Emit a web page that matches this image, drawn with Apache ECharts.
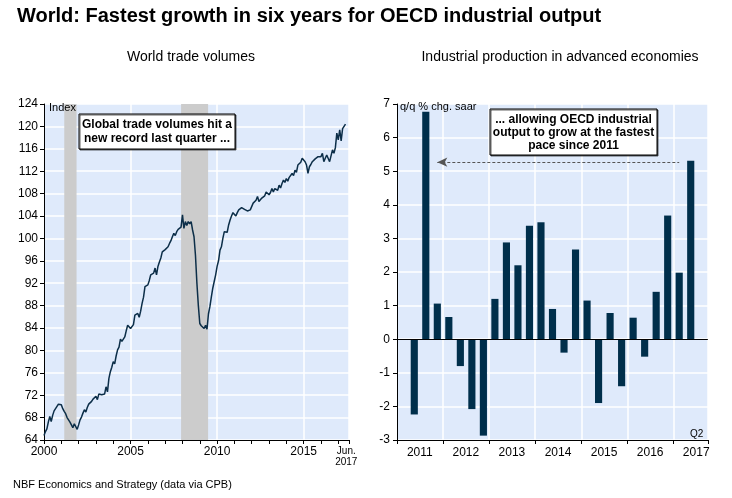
<!DOCTYPE html>
<html>
<head>
<meta charset="utf-8">
<script src="https://cdn.jsdelivr.net/npm/echarts@6/dist/echarts.min.js"></script>
<style>
  html, body { margin: 0; padding: 0; background: #fff; }
  #chart { width: 732px; height: 498px; }
</style>
</head>
<body>
<div id="chart"></div>
<script>
// World trade volumes, monthly index, Jan 2000 - Jun 2017
const tradeStartYear = 2000;
const tradeValues = [
  64.8, 65.5, 66.0, 67.2, 68.2, 67.3, 68.4, 69.2, 69.4, 70.0, 70.4, 70.5, // 2000
  70.3, 69.6, 69.1, 68.7, 68.0, 67.6, 67.2, 66.9, 66.2, 66.9, 66.6, 65.9, // 2001
  66.7, 67.6, 68.1, 68.8, 69.4, 69.0, 69.8, 70.4, 70.6, 70.9, 71.3, 71.0, // 2002
  71.8, 71.2, 72.2, 72.3, 72.1, 72.4, 72.2, 73.5, 72.6, 75.0, 76.2, 77.0, // 2003
  78.0, 77.6, 79.0, 80.1, 80.6, 82.0, 81.6, 81.4, 82.4, 83.5, 84.5, 84.2, // 2004
  83.9, 83.8, 84.6, 86.3, 86.5, 86.6, 85.9, 87.0, 88.4, 89.5, 91.4, 91.3, // 2005
  91.7, 92.5, 93.5, 93.6, 93.8, 94.7, 93.5, 95.0, 95.8, 96.5, 97.6, 97.9, // 2006
  98.0, 98.2, 98.5, 99.1, 99.6, 100.3, 100.9, 100.5, 101.2, 101.6, 101.4, 102.0, // 2007
  104.2, 101.8, 103.0, 102.3, 103.0, 102.6, 103.0, 101.5, 100.3, 97.0, 92.0, 88.0, // 2008
  84.8, 84.4, 84.3, 83.9, 84.5, 83.8, 86.5, 87.8, 89.5, 91.1, 92.3, 93.5, // 2009
  95.0, 96.0, 97.9, 98.5, 100.0, 101.2, 101.5, 101.1, 102.4, 103.3, 104.0, 104.6, // 2010
  104.5, 104.0, 104.6, 105.1, 104.8, 105.5, 105.7, 105.2, 105.4, 104.9, 104.8, 105.1, // 2011
  105.4, 106.3, 106.0, 106.8, 107.5, 106.6, 106.6, 107.2, 106.9, 107.6, 108.3, 108.6, // 2012
  107.8, 108.2, 108.9, 108.3, 108.9, 109.2, 108.6, 109.5, 109.0, 109.8, 110.4, 110.0, // 2013
  110.7, 110.2, 110.9, 110.7, 111.6, 111.2, 112.2, 111.8, 113.1, 112.8, 113.6, 114.3, // 2014
  114.1, 113.7, 113.1, 111.6, 112.8, 113.2, 113.7, 113.5, 114.2, 114.0, 114.6, 114.9, // 2015
  114.6, 115.2, 113.7, 114.3, 114.9, 115.0, 113.7, 114.0, 115.8, 115.2, 116.2, 118.8, // 2016
  117.6, 119.4, 117.4, 119.6, 119.9, 120.4 // 2017
];
// shaded recessions (decimal years)
const recessions = [[2001.17, 2001.88], [2007.92, 2009.48]];

// Industrial production in advanced economies, q/q % chg. saar, 2011Q1 - 2017Q3
const ipYears = [2011, 2012, 2013, 2014, 2015, 2016, 2017];
const ipValues = [
  null, -2.24, 6.77, 1.06,
  0.66, -0.8, -2.08, -2.87,
  1.2, 2.88, 2.2, 3.38,
  3.48, 0.9, -0.4, 2.67,
  1.15, -1.9, 0.78, -1.4,
  0.64, -0.52, 1.41, 3.68,
  1.98, 5.31, null
];
const arrowLevel = 5.27;

const quarters = [];
ipYears.forEach(y => {
  for (let q = 1; q <= 4; q++) {
    if (y === 2017 && q > 3) break;
    quarters.push(y + 'Q' + q);
  }
});

const tradeData = tradeValues.map((v, i) => [tradeStartYear + i / 12, v]);

const FONT = 'Liberation Sans, Arial, sans-serif';
const BG = '#dfeafb';
const INK = '#002f4b';

// white callout box with bold centred text
function callout(x, y, w, h, text, lineHeight) {
  return {
    type: 'group', z: 100,
    children: [
      { type: 'rect', z: 100, shape: { x: x, y: y, width: w, height: h },
        style: { fill: '#fff', stroke: '#000', lineWidth: 1, shadowColor: 'rgba(0,0,0,0.6)', shadowOffsetX: 1, shadowOffsetY: 1 } },
      { type: 'text', z: 101, x: x + w / 2, y: y + 4,
        style: { text: text, fontSize: 12, fontWeight: 'bold', fill: '#000', fontFamily: FONT,
                 align: 'center', verticalAlign: 'top', lineHeight: lineHeight } }
    ]
  };
}

let chart = echarts.init(document.getElementById('chart'));

let option = {
  animation: false,
  textStyle: { fontFamily: FONT },
  title: [
    { text: 'World: Fastest growth in six years for OECD industrial output', left: 12, top: 1,
      textStyle: { fontSize: 20, fontWeight: 'bold', color: '#000', fontFamily: FONT } },
    { text: 'World trade volumes', left: 186, top: 45, textAlign: 'center',
      textStyle: { fontSize: 14, fontWeight: 'normal', color: '#000', fontFamily: FONT } },
    { text: 'Industrial production in advanced economies', left: 555, top: 45, textAlign: 'center',
      textStyle: { fontSize: 14, fontWeight: 'normal', color: '#000', fontFamily: FONT } },
    { text: 'NBF Economics and Strategy (data via CPB)', left: 8, top: 474,
      textStyle: { fontSize: 11, fontWeight: 'normal', color: '#000', fontFamily: FONT } }
  ],
  grid: [
    { left: 44, right: 383, top: 104, bottom: 58, show: true, backgroundColor: BG, borderWidth: 0 },
    { left: 397, right: 24, top: 104, bottom: 58, show: true, backgroundColor: BG, borderWidth: 0 }
  ],
  xAxis: [
    {
      gridIndex: 0, type: 'value', min: 2000, max: 2017.62, interval: 1,
      axisLine: { show: true, lineStyle: { color: '#000', width: 1 } },
      axisTick: { show: true, length: 4, lineStyle: { color: '#000' } },
      splitLine: { show: false },
      axisLabel: {
        color: '#000', fontSize: 12, margin: 6,
        formatter: v => {
          const r = Math.round(v);
          if (Math.abs(v - r) > 1e-6) return '';
          if (r === 2017) return '{j|Jun.}\n{j|2017}';
          return r % 5 === 0 ? String(r) : '';
        },
        rich: { j: { fontSize: 10, lineHeight: 11, padding: [0, 0, 0, 16], color: '#000' } }
      }
    },
    {
      // vertical grid lines every 5 years
      gridIndex: 0, type: 'value', min: 2000, max: 2017.62, interval: 5,
      axisLine: { show: false }, axisTick: { show: false }, axisLabel: { show: false },
      splitLine: { show: true, lineStyle: { color: '#fff', width: 1.5 } }
    },
    {
      gridIndex: 1, type: 'category', data: quarters, boundaryGap: true,
      axisLine: { show: true, onZero: false, lineStyle: { color: '#000' } },
      axisTick: { show: true, length: 4, interval: i => i % 4 === 0, lineStyle: { color: '#000' } },
      splitLine: { show: true, interval: i => i % 4 === 0, lineStyle: { color: '#fff', width: 1.5 } },
      axisLabel: {
        color: '#000', fontSize: 12, margin: 7,
        interval: i => i % 4 === 1,
        formatter: v => v.slice(0, 4),
        padding: [0, 0, 0, 11]
      }
    }
  ],
  yAxis: [
    {
      gridIndex: 0, type: 'value', min: 64, max: 124, interval: 4,
      axisLine: { show: true, lineStyle: { color: '#000' } },
      axisTick: { show: true, length: 4, lineStyle: { color: '#000' } },
      axisLabel: { color: '#000', fontSize: 12, margin: 6 },
      splitLine: { show: true, lineStyle: { color: '#fff', width: 1.5 } }
    },
    {
      gridIndex: 1, type: 'value', min: -3, max: 7, interval: 1,
      axisLine: { show: true, lineStyle: { color: '#000' } },
      axisTick: { show: true, length: 4, lineStyle: { color: '#000' } },
      axisLabel: { color: '#000', fontSize: 12, margin: 7 },
      splitLine: { show: true, lineStyle: { color: '#fff', width: 1.5 } }
    }
  ],
  series: [
    {
      name: 'World trade volumes', type: 'line', xAxisIndex: 0, yAxisIndex: 0,
      data: tradeData, showSymbol: false, symbol: 'none',
      lineStyle: { color: '#0c2e48', width: 1.5 },
      markArea: {
        silent: true,
        itemStyle: { color: '#cccccc', opacity: 1 },
        data: recessions.map(r => [{ xAxis: r[0] }, { xAxis: r[1] }])
      }
    },
    {
      name: 'Industrial production', type: 'bar', xAxisIndex: 2, yAxisIndex: 1,
      data: ipValues, barWidth: '62%',
      itemStyle: { color: INK },
      markLine: {
        silent: true, animation: false,
        label: { show: false },
        data: [
          [{ yAxis: 0, x: '54.2%', symbol: 'none' }, { yAxis: 0, x: '96.7%', symbol: 'none', lineStyle: { type: 'solid', color: '#000', width: 1 } }],
          [
            { coord: ['2011Q4', arrowLevel], symbol: 'arrow', symbolSize: [7, 10] },
            { coord: ['2017Q1', arrowLevel], symbol: 'none', lineStyle: { type: [3, 2], color: '#555', width: 1 } }
          ]
        ]
      }
    }
  ],
  graphic: [
    { type: 'text', z: 100, left: 49, top: 102, style: { text: 'Index', fontSize: 11, fill: '#000', fontFamily: FONT } },
    { type: 'text', z: 100, left: 400, top: 101, style: { text: 'q/q % chg. saar', fontSize: 11, fill: '#000', fontFamily: FONT } },
    { type: 'text', z: 100, left: 690, top: 429, style: { text: 'Q2', fontSize: 10, fill: '#000', fontFamily: FONT } },
    callout(79, 114, 156, 35, 'Global trade volumes hit a\nnew record last quarter ...', 14),
    callout(490, 109, 167, 46, '... allowing OECD industrial\noutput to grow at the fastest\npace since 2011', 13)
  ]
};

chart.setOption(option);
window.addEventListener('resize', () => chart.resize());
</script>
</body>
</html>
